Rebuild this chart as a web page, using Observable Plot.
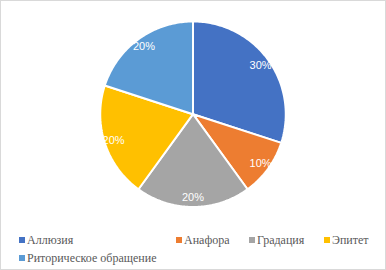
<!DOCTYPE html>
<html>
<head>
<meta charset="utf-8">
<script src="https://cdn.jsdelivr.net/npm/d3@7"></script>
<script src="https://cdn.jsdelivr.net/npm/@observablehq/plot@0.6"></script>
<style>
  html, body { margin: 0; padding: 0; background: #fff; }
  #frame { position: relative; width: 386px; height: 270px; box-sizing: border-box; border: 1px solid #d9d9d9; overflow: hidden; }
  #chart { position: absolute; left: -1px; top: -1px; }
  .leg { position: absolute; font-family: "Liberation Serif", "Times New Roman", serif; font-size: 12px; color: #595959; white-space: nowrap; line-height: 14px; }
  .leg i { display: inline-block; width: 6px; height: 6px; margin-right: 2px; vertical-align: 1px; }
</style>
</head>
<body>
<div id="frame"><div id="chart"></div></div>
<script>
const categories = ["Аллюзия", "Анафора", "Градация", "Эпитет", "Риторическое обращение"];
const values = [30, 10, 20, 20, 20];
const labels = ["30%", "10%", "20%", "20%", "20%"];
const colors = ["#4472C4", "#ED7D31", "#A5A5A5", "#FFC000", "#5B9BD5"];

const W = 386, H = 226;
const cx = 193, cy = 114, R = 93;

const pie = d3.pie().sort(null).value(d => d.value)(categories.map((name, i) => ({name, value: values[i], label: labels[i]})));

const polys = [];
pie.forEach(a => {
  polys.push({name: a.data.name, x: cx, y: cy});
  const n = Math.max(2, Math.ceil((a.endAngle - a.startAngle) / (Math.PI / 180)));
  for (let k = 0; k <= n; k++) {
    const t = a.startAngle + (a.endAngle - a.startAngle) * k / n;
    polys.push({name: a.data.name, x: cx + R * Math.sin(t), y: cy - R * Math.cos(t)});
  }
});
const labelPts = pie.map(a => {
  const m = (a.startAngle + a.endAngle) / 2;
  const r = R * 0.9;
  return {label: a.data.label, x: cx + r * Math.sin(m), y: cy - r * Math.cos(m)};
});

const chart = Plot.plot({
  width: W, height: H,
  margin: 0,
  x: {domain: [0, W], range: [0, W], axis: null},
  y: {domain: [0, H], range: [0, H], axis: null},
  color: {domain: categories, range: colors},
  style: {background: "transparent"},
  marks: [
    Plot.line(polys, {x: "x", y: "y", z: "name", fill: "name", stroke: "white", strokeWidth: 2, curve: "linear-closed", strokeLinejoin: "miter"}),
    Plot.text(labelPts, {x: "x", y: "y", text: "label", fill: "white", fontSize: 11, fontFamily: "Liberation Sans, Arial, sans-serif"})
  ]
});
document.getElementById("chart").appendChild(chart);

// legend
const legPos = [[18, 232], [175, 232], [248, 232], [323, 232], [18, 250]];
const frame = document.getElementById("frame");
categories.forEach((c, i) => {
  const d = document.createElement("div");
  d.className = "leg";
  d.style.left = legPos[i][0] + "px";
  d.style.top = legPos[i][1] + "px";
  d.innerHTML = `<i style="background:${colors[i]}"></i>${c}`;
  frame.appendChild(d);
});
</script>
</body>
</html>
